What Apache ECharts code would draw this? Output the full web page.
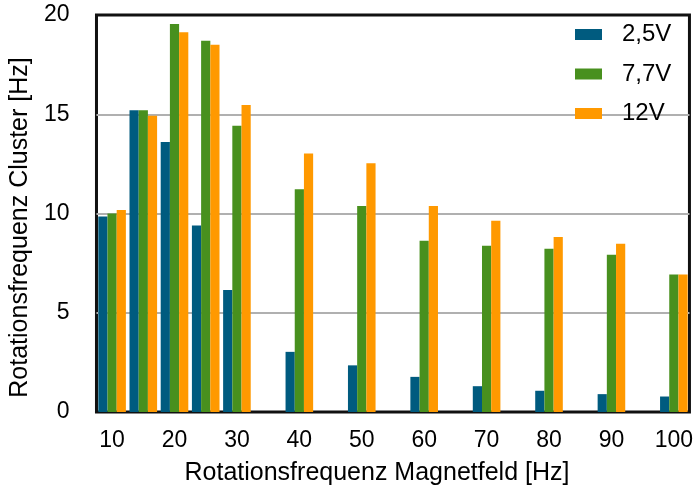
<!DOCTYPE html>
<html>
<head>
<meta charset="utf-8">
<style>
  html, body { margin: 0; padding: 0; background: #fff; }
  #chart { width: 696px; height: 491px; }
</style>
<script src="https://cdn.jsdelivr.net/npm/echarts@6/dist/echarts.min.js"></script>
</head>
<body>
<div id="chart"></div>
<script>
// Magnetic field rotation frequency [Hz]
const fieldFreq = [10, 15, 20, 25, 30, 40, 50, 60, 70, 80, 90, 100];
// Cluster rotation frequency [Hz] per drive voltage
const cluster25V = [9.85, 15.2, 13.6, 9.4, 6.15, 3.03, 2.35, 1.77, 1.3, 1.07, 0.9, 0.78];
const cluster77V = [10.0, 15.2, 19.55, 18.7, 14.42, 11.22, 10.38, 8.63, 8.38, 8.23, 7.92, 6.93];
const cluster12V = [10.18, 14.92, 19.13, 18.5, 15.46, 13.02, 12.53, 10.38, 9.63, 8.82, 8.47, 6.93];
const seriesNames = ['2,5V', '7,7V', '12V'];
const xTickLabels = [10, 20, 30, 40, 50, 60, 70, 80, 90, 100];

const FONT = '"Liberation Sans", Arial, sans-serif';
const colors = ['#005b7f', '#48901e', '#ff9900'];

function pairs(values) {
  return fieldFreq.map((f, i) => [f, values[i]]);
}

const chart = echarts.init(document.getElementById('chart'));
chart.setOption({
  animation: false,
  color: colors,
  textStyle: { fontFamily: FONT, color: '#000' },
  grid: {
    left: 95, right: 3, top: 15, bottom: 78,
    show: true, borderColor: '#111', borderWidth: 3, backgroundColor: '#fff'
  },
  legend: {
    left: 575, top: 22.5, orient: 'vertical', padding: 0,
    itemWidth: 27, itemHeight: 11, itemGap: 15.5,
    icon: 'rect',
    textStyle: { fontFamily: FONT, fontSize: 24, lineHeight: 23, color: '#000', padding: [0, 0, 0, 15] },
    data: seriesNames
  },
  xAxis: {
    type: 'value', min: 7.5, max: 102.5,
    name: 'Rotationsfrequenz Magnetfeld [Hz]',
    nameLocation: 'middle', nameGap: 49,
    nameTextStyle: { fontFamily: FONT, fontSize: 25, color: '#000', padding: [0, 32, 0, 0] },
    axisLine: { show: false },
    axisTick: { show: false },
    splitLine: { show: false },
    axisLabel: {
      customValues: xTickLabels,
      fontFamily: FONT, fontSize: 23, color: '#000', margin: 17
    }
  },
  yAxis: {
    type: 'value', min: 0, max: 20, interval: 5,
    name: 'Rotationsfrequenz Cluster [Hz]',
    nameLocation: 'middle', nameGap: 56,
    nameTextStyle: { fontFamily: FONT, fontSize: 25, color: '#000', padding: [0, 28, 0, 0] },
    axisLine: { show: false },
    axisTick: { show: false },
    splitLine: {
      show: true, showMinLine: false, showMaxLine: false,
      lineStyle: { color: '#b0b0b0', width: 2 }
    },
    axisLabel: { fontFamily: FONT, fontSize: 23, color: '#000', margin: 27 }
  },
  series: [
    { name: seriesNames[0], type: 'bar', data: pairs(cluster25V), barWidth: 9.2, barGap: '0%' },
    { name: seriesNames[1], type: 'bar', data: pairs(cluster77V), barWidth: 9.2, barGap: '0%' },
    { name: seriesNames[2], type: 'bar', data: pairs(cluster12V), barWidth: 9.2, barGap: '0%' }
  ]
});
</script>
</body>
</html>
